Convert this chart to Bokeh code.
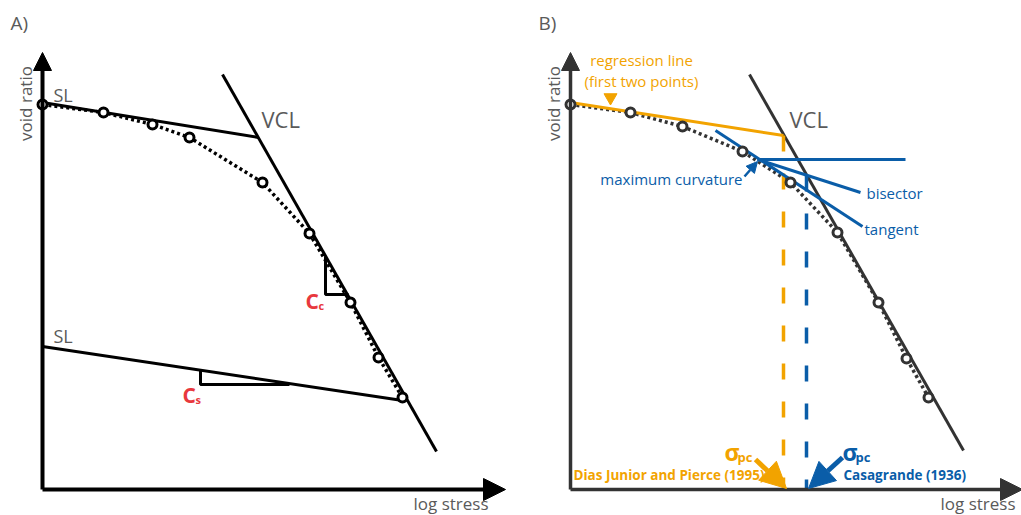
from math import pi
from bokeh.plotting import figure
from bokeh.layouts import row
from bokeh.models import Range1d, Arrow, NormalHead
from bokeh.core.properties import value
from bokeh.embed import file_html
from bokeh.resources import INLINE

FONT = value("Open Sans")
GRAY_TXT = "#5a5a5a"
ORANGE = "#F2A300"
BLUE = "#0A5DA8"
RED = "#E8383D"

# ---------------- data: panel A (log stress, void ratio in schematic units) ----------------
a_stress = [0, 61, 110, 147, 220, 267, 308, 336, 360]
a_void = [385, 377, 365, 352, 307, 256, 187, 132, 92]
a_sl_upper_x = [0, 216]
a_sl_upper_y = [387, 352]
a_vcl_x = [180, 394]
a_vcl_y = [415, 38]
a_cc_x = [283, 283, 306]
a_cc_y = [233, 195, 195]
a_sl_lower_x = [0, 360]
a_sl_lower_y = [143, 89]
a_cs_x = [158, 158, 247]
a_cs_y = [119, 105, 105]

# ---------------- data: panel B ----------------
b_stress = [0, 60, 112, 172, 220, 267, 308, 336, 358]
b_void = [385, 377, 363, 338, 307, 257, 187, 131, 92]
b_vcl_x = [179, 393]
b_vcl_y = [415, 39]
b_reg_x = [0, 213]
b_reg_y = [387, 354]
b_dias_x = [213, 213]
b_dias_y = [354, 0]
b_casa_x = [236, 236]
b_casa_y = [314, 0]
b_horiz_x = [187, 335]
b_horiz_y = [330, 330]
b_tangent_x = [145, 292]
b_tangent_y = [359, 263]
b_bisector_x = [187, 290]
b_bisector_y = [330, 297]

H = 515


def base_fig(w, x0, x1):
    p = figure(width=w, height=H, x_range=Range1d(x0, x1), y_range=Range1d(489 - H, 489),
               output_backend="svg", toolbar_location=None, min_border=0,
               x_axis_location=None, y_axis_location=None)
    p.grid.visible = False
    p.outline_line_color = None
    p.background_fill_color = "white"
    return p


def txt(p, x, y, s, color=GRAY_TXT, size="15px", align="left", base="middle", style="normal", angle=0.0):
    p.text(x=[x], y=[y], text=[s], text_color=color, text_font=FONT, text_font_size=size,
           text_align=align, text_baseline=base, text_font_style=style, angle=angle)


def axes(p, color, tip_x, lw):
    p.add_layout(Arrow(end=NormalHead(size=18, fill_color=color, line_color=color),
                       x_start=0, y_start=0, x_end=0, y_end=437, line_color=color, line_width=lw))
    p.add_layout(Arrow(end=NormalHead(size=22, fill_color=color, line_color=color),
                       x_start=0, y_start=0, x_end=tip_x, y_end=0, line_color=color, line_width=lw))


# ---------------- Panel A ----------------
pa = base_fig(528, -42, 486)
axes(pa, "black", 463, 4)
pa.line(a_stress, a_void, line_color="black", line_width=3.5, line_dash="3 3")
pa.line(a_sl_upper_x, a_sl_upper_y, line_color="black", line_width=3)
pa.line(a_vcl_x, a_vcl_y, line_color="black", line_width=3)
pa.line(a_cc_x, a_cc_y, line_color="black", line_width=3)
pa.line(a_sl_lower_x, a_sl_lower_y, line_color="black", line_width=3)
pa.line(a_cs_x, a_cs_y, line_color="black", line_width=3)
pa.scatter(a_stress, a_void, marker="circle", size=9, fill_color="white",
           line_color="black", line_width=3)

txt(pa, -32, 467, "A)", size="19px")
txt(pa, -17, 386, "void ratio", size="17px", align="center", angle=pi / 2)
txt(pa, 11, 395, "SL", size="18px")
txt(pa, 219, 371, "VCL", size="22px")
txt(pa, 11, 154, "SL", size="18px")
txt(pa, 263, 189, "C", color=RED, size="21px", style="bold")
txt(pa, 276, 184, "c", color=RED, size="11px", style="bold")
txt(pa, 140, 95, "C", color=RED, size="21px", style="bold")
txt(pa, 153, 90, "s", color=RED, size="11px", style="bold")
txt(pa, 446, -14, "log stress", size="17px", align="right")

# ---------------- Panel B ----------------
AX_B = "#333333"
pb = base_fig(493, -42, 451)
axes(pb, AX_B, 452, 3.5)
pb.line(b_stress, b_void, line_color=AX_B, line_width=3.5, line_dash="3 3")
pb.line(b_vcl_x, b_vcl_y, line_color=AX_B, line_width=3)
pb.line(b_dias_x, b_dias_y, line_color=ORANGE, line_width=3.5, line_dash="16 22")
pb.line(b_casa_x, b_casa_y, line_color=BLUE, line_width=3.5, line_dash="16 22")
pb.line(b_reg_x, b_reg_y, line_color=ORANGE, line_width=3)
pb.line(b_horiz_x, b_horiz_y, line_color=BLUE, line_width=3)
pb.line(b_tangent_x, b_tangent_y, line_color=BLUE, line_width=3)
pb.line(b_bisector_x, b_bisector_y, line_color=BLUE, line_width=3)
pb.scatter(b_stress, b_void, marker="circle", size=9, fill_color="white",
           line_color=AX_B, line_width=3)
pb.scatter([40], [392], marker="inverted_triangle", size=13, fill_color=ORANGE, line_color=ORANGE)

pb.add_layout(Arrow(end=NormalHead(size=11, fill_color=BLUE, line_color=BLUE),
                    x_start=174, y_start=313, x_end=187, y_end=328, line_color=BLUE, line_width=2.5))
pb.add_layout(Arrow(end=NormalHead(size=26, fill_color=ORANGE, line_color=ORANGE),
                    x_start=185, y_start=30, x_end=216, y_end=1, line_color=ORANGE, line_width=5))
pb.add_layout(Arrow(end=NormalHead(size=26, fill_color=BLUE, line_color=BLUE),
                    x_start=272, y_start=32, x_end=238, y_end=1, line_color=BLUE, line_width=5))

txt(pb, -32, 467, "B)", size="19px")
txt(pb, -17, 386, "void ratio", size="17px", align="center", angle=pi / 2)
txt(pb, 71, 430, "regression line", color=ORANGE, size="15px", align="center")
txt(pb, 71, 409, "(first two points)", color=ORANGE, size="15px", align="center")
txt(pb, 219, 371, "VCL", size="22px")
txt(pb, 172, 311, "maximum curvature", color=BLUE, size="15px", align="right")
txt(pb, 296, 297, "bisector", color=BLUE, size="15px")
txt(pb, 294, 261, "tangent", color=BLUE, size="15px")
txt(pb, 154, 38, "σ", color=ORANGE, size="23px", style="bold")
txt(pb, 167, 33, "pc", color=ORANGE, size="13px", style="bold")
txt(pb, 3, 15, "Dias Junior and Pierce (1995)", color=ORANGE, size="13.5px", style="bold")
txt(pb, 272, 38, "σ", color=BLUE, size="23px", style="bold")
txt(pb, 285, 33, "pc", color=BLUE, size="13px", style="bold")
txt(pb, 273, 15, "Casagrande (1936)", color=BLUE, size="13.5px", style="bold")
txt(pb, 445, -14, "log stress", size="17px", align="right")

layout = row(pa, pb)
open("out.html", "w").write(file_html(layout, INLINE))
